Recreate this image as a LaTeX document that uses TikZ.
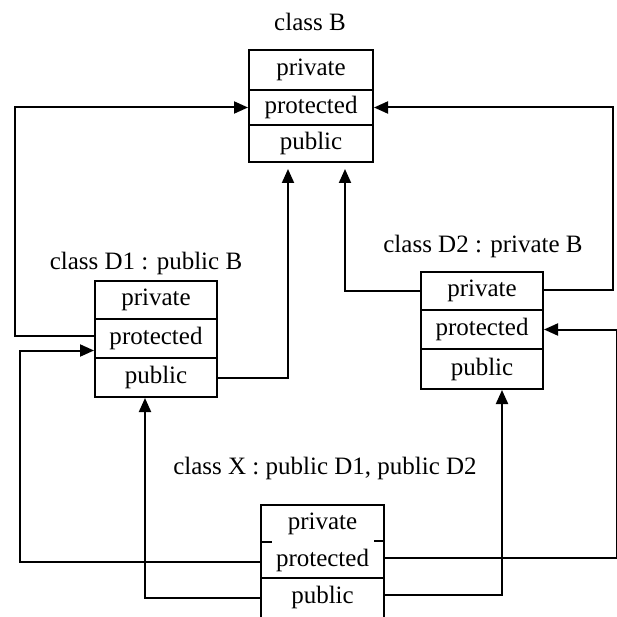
\documentclass[tikz,border=0pt]{standalone}
\usepackage{fontspec}
\setmainfont{Liberation Serif}
\usetikzlibrary{arrows.meta}
\begin{document}
\begin{tikzpicture}[x=1pt,y=-1pt,
  row/.style={draw, line width=2pt, rectangle, inner sep=0pt, font=\fontsize{25}{29}\selectfont},
  xrow/.style={rectangle, inner sep=0pt, minimum width=123pt, font=\fontsize{25}{29}\selectfont},
  lbl/.style={font=\fontsize{25}{29}\selectfont, inner sep=0pt},
  arr/.style={line width=2pt, -{Triangle[length=14pt,width=12pt]}},
  edge/.style={line width=2pt}]
\useasboundingbox (0,0) rectangle (616,617);
% class B
\node[lbl] (lb) at (310,22) {class B};
\node[row, minimum width=124pt, minimum height=40pt] (bpriv) at (311,70) {private};
\node[row, minimum width=124pt, minimum height=35pt] (bprot) at (311,107.5) {protected};
\node[row, minimum width=124pt, minimum height=37pt] (bpub) at (311,143.5) {public};
% class D1
\node[lbl] (ld1) at (146,263) {class D1 : public B};
\node[row, minimum width=122pt, minimum height=38pt] (d1priv) at (156,300) {private};
\node[row, minimum width=122pt, minimum height=39pt] (d1prot) at (156,338.5) {protected};
\node[row, minimum width=122pt, minimum height=39pt] (d1pub) at (156,377.5) {public};
% class D2
\node[lbl] (ld2) at (483,246) {class D2 : private B};
\node[row, minimum width=122pt, minimum height=38pt] (d2priv) at (482,291) {private};
\node[row, minimum width=122pt, minimum height=39pt] (d2prot) at (482,329.5) {protected};
\node[row, minimum width=122pt, minimum height=40pt] (d2pub) at (482,369) {public};
% class X
\node[lbl] (lx) at (325,468) {class X : public D1, public D2};
\node[xrow, minimum height=37pt] (xpriv) at (322.5,523.5) {private};
\node[xrow, minimum height=36pt] (xprot) at (322.5,560) {protected};
\node[xrow, minimum height=39pt] (xpub) at (322.5,597.5) {public};
\draw[edge] (xpub.south west) -- (xpriv.north west) -- (xpriv.north east) -- (xpub.south east);
\draw[edge] (xprot.south west) -- (xprot.south east);
\draw[edge] (xpriv.south west) -- ([xshift=11pt]xpriv.south west);
\draw[edge] ([yshift=1pt]xpriv.south east) -- ([xshift=-10pt,yshift=1pt]xpriv.south east);
% routing coordinates
\coordinate (L1) at (15,0);
\coordinate (L2) at (20,0);
\coordinate (R1) at (613,0);
\coordinate (R2) at (616.5,0);
\coordinate (bA) at (288,169);
\coordinate (bC) at (345,169);
% connectors
\draw[arr] ([yshift=3pt]d1prot.west) -- ([yshift=3pt]d1prot.west -| L1) |- (bprot.west);
\draw[arr] (d1pub.east) -| (bA);
\draw[arr] (d2priv.west) -| (bC);
\draw[arr] ([yshift=1pt]d2priv.east) -- ([yshift=1pt]d2priv.east -| R1) |- (bprot.east);
\draw[arr] ([yshift=-2pt]xprot.west) -- ([yshift=-2pt]xprot.west -| L2) |- ([yshift=-12pt]d1prot.west);
\draw[arr] (xpub.west) -| ([xshift=-11pt]d1pub.south);
\draw[arr] ([yshift=3pt]xpub.east) -| ([xshift=20pt]d2pub.south);
\draw[arr] ([yshift=2pt]xprot.east) -- ([yshift=2pt]xprot.east -| R2) |- (d2prot.east);
\end{tikzpicture}
\end{document}
